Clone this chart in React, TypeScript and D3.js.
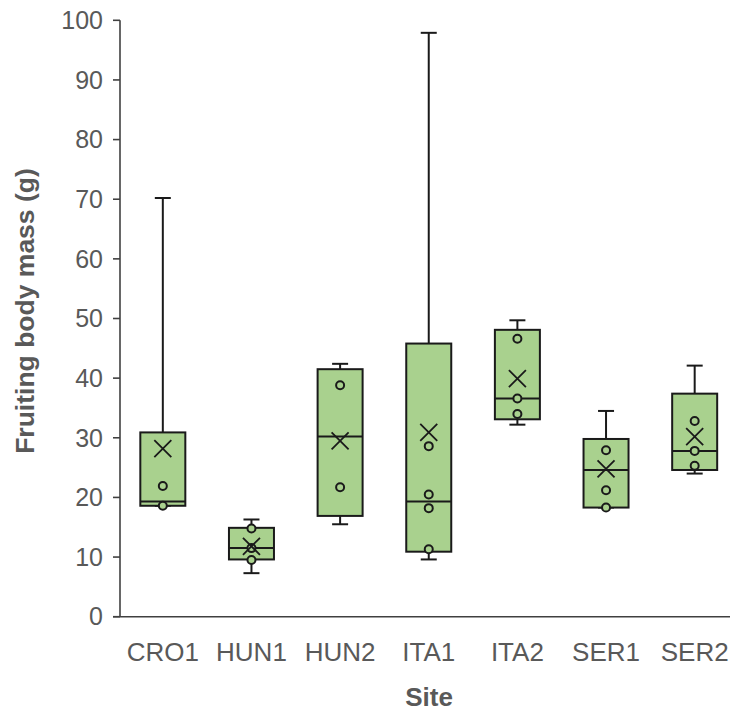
import { useEffect, useRef } from 'react';
import * as d3 from 'd3';

// site labels
const sites = ['CRO1', 'HUN1', 'HUN2', 'ITA1', 'ITA2', 'SER1', 'SER2'];
// box stats (g)
const whiskLow  = [18.6, 7.3, 15.5, 9.6, 32.2, 18.3, 24.0];
const q1        = [18.6, 9.6, 16.9, 10.9, 33.1, 18.3, 24.6];
const median    = [19.3, 11.5, 30.2, 19.3, 36.6, 24.6, 27.8];
const q3        = [30.9, 14.9, 41.5, 45.8, 48.1, 29.8, 37.4];
const whiskHigh = [70.2, 16.3, 42.4, 97.9, 49.7, 34.5, 42.1];
const means     = [28.2, 11.8, 29.5, 30.9, 39.9, 24.8, 30.2];
const innerPts  = [
  [21.9, 18.6],
  [14.8, 11.5, 9.5],
  [38.8, 21.7],
  [28.6, 20.5, 18.2, 11.3],
  [46.6, 36.6, 34.0],
  [27.9, 21.2, 18.3],
  [32.8, 27.8, 25.3],
];
const yTicks = [0, 10, 20, 30, 40, 50, 60, 70, 80, 90, 100];

const FONT = '"Liberation Sans", Arial, sans-serif';
const GREY = '#595959';
const INK = '#1a1a1a';
const FILL = '#a9d18e';

export default function App() {
  const ref = useRef<SVGSVGElement>(null);

  useEffect(() => {
    const svg = d3.select(ref.current);
    svg.selectAll('*').remove();

    const x = d3.scaleBand().domain(sites).range([118.5, 739]);
    const y = d3.scaleLinear().domain([0, 100]).range([616.7, 20.3]);
    const axisX = 120;
    const boxW = 45;
    const capW = 16;

    // axes
    svg.append('line').attr('x1', axisX).attr('x2', axisX).attr('y1', y(100)).attr('y2', y(0))
      .attr('stroke', '#404040').attr('stroke-width', 1.6);
    svg.append('line').attr('x1', axisX - 7).attr('x2', 730).attr('y1', y(0)).attr('y2', y(0))
      .attr('stroke', '#404040').attr('stroke-width', 1.6);
    yTicks.forEach(t => {
      svg.append('line').attr('x1', axisX - 7).attr('x2', axisX).attr('y1', y(t)).attr('y2', y(t))
        .attr('stroke', '#404040').attr('stroke-width', 1.6);
      svg.append('text').attr('x', 103).attr('y', y(t)).attr('dy', '0.35em')
        .attr('text-anchor', 'end').style('font-family', FONT).style('font-size', '25px')
        .style('fill', GREY).text(t);
    });
    sites.forEach(s => {
      svg.append('text').attr('x', x(s)! + x.bandwidth() / 2).attr('y', 661)
        .attr('text-anchor', 'middle').style('font-family', FONT).style('font-size', '26px')
        .style('fill', GREY).text(s);
    });

    svg.append('text').attr('x', 429).attr('y', 706).attr('text-anchor', 'middle')
      .style('font-family', FONT).style('font-size', '26px').style('font-weight', 'bold')
      .style('fill', GREY).text('Site');
    svg.append('text').attr('transform', 'translate(34,311) rotate(-90)').attr('text-anchor', 'middle')
      .style('font-family', FONT).style('font-size', '26.5px').style('font-weight', 'bold')
      .style('fill', GREY).text('Fruiting body mass (g)');

    // boxes
    sites.forEach((s, i) => {
      const cx = x(s)! + x.bandwidth() / 2;
      const g = svg.append('g').attr('stroke', INK).attr('stroke-width', 2);

      g.append('line').attr('x1', cx).attr('x2', cx).attr('y1', y(whiskHigh[i])).attr('y2', y(q3[i]));
      g.append('line').attr('x1', cx).attr('x2', cx).attr('y1', y(q1[i])).attr('y2', y(whiskLow[i]));
      [whiskHigh[i], whiskLow[i]].forEach(v => {
        g.append('line').attr('x1', cx - capW / 2).attr('x2', cx + capW / 2).attr('y1', y(v)).attr('y2', y(v));
      });

      g.append('rect').attr('x', cx - boxW / 2).attr('width', boxW)
        .attr('y', y(q3[i])).attr('height', y(q1[i]) - y(q3[i])).attr('fill', FILL);
      g.append('line').attr('x1', cx - boxW / 2).attr('x2', cx + boxW / 2)
        .attr('y1', y(median[i])).attr('y2', y(median[i]));

      innerPts[i].forEach(v => {
        g.append('circle').attr('cx', cx).attr('cy', y(v)).attr('r', 4).attr('fill', FILL);
      });

      const my = y(means[i]), h = 8.5;
      g.append('path').attr('fill', 'none').attr('stroke-width', 1.8)
        .attr('d', `M${cx - h},${my - h}L${cx + h},${my + h}M${cx - h},${my + h}L${cx + h},${my - h}`);
    });
  }, []);

  return (
    <svg ref={ref} width={730} height={713}
      style={{ position: 'absolute', left: 0, top: 0, background: '#fff' }} />
  );
}
